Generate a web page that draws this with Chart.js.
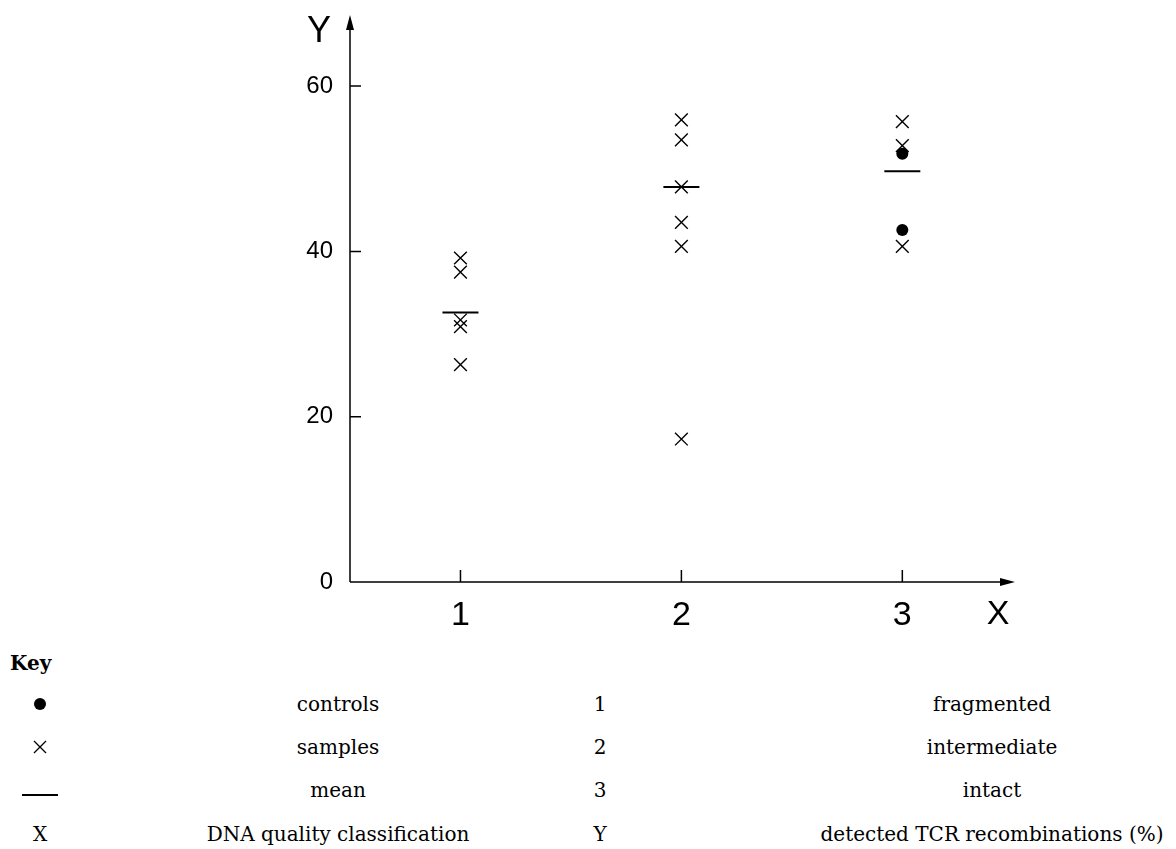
<!DOCTYPE html>
<html>
<head>
<meta charset="utf-8">
<script src="https://cdn.jsdelivr.net/npm/chart.js@4.4.1/dist/chart.umd.min.js"></script>
<style>
  body { margin: 0; background: #fff; }
  #wrap { position: relative; width: 1176px; height: 849px; }
  #grafico { position: absolute; left: 0; top: 0; }
  .k { position: absolute; font-family: "DejaVu Serif", serif; font-size: 20px; color: #000;
       transform: translate(-50%, -50%); white-space: nowrap; }
  .titulo { position: absolute; left: 10px; top: 651px; font-family: "DejaVu Serif", serif;
            font-weight: bold; font-size: 20px; }
</style>
</head>
<body>
<div id="wrap">
  <canvas id="grafico" width="1176" height="650"></canvas>
  <div class="titulo">Key</div>
  <div id="legenda"></div>
</div>
<script>
// valores
const categorias = [1, 2, 3];
const ticksY = [0, 20, 40, 60];
const amostrasGrupo = [1, 1, 1, 1, 1, 2, 2, 2, 2, 2, 2, 3, 3, 3];
const amostrasValor = [39.2, 37.5, 31.7, 30.9, 26.3, 55.9, 53.5, 47.8, 43.5, 40.6, 17.3, 55.7, 52.8, 40.6];
const controlesGrupo = [3, 3];
const controlesValor = [51.8, 42.6];
const mediaValor = [32.6, 47.8, 49.7];

// legenda (Key)
const legendaSimbolos = ["dot", "cross", "line", "X"];
const legendaDescricao = ["controls", "samples", "mean", "DNA quality classification"];
const legendaCodigo = ["1", "2", "3", "Y"];
const legendaSignificado = ["fragmented", "intermediate", "intact", "detected TCR recombinations (%)"];

// Monta a legenda em HTML
function montarLegenda() {
  const el = document.getElementById("legenda");
  const linhasY = [704, 747, 790, 834];
  let html = "";
  legendaSimbolos.forEach((s, i) => {
    const y = linhasY[i];
    if (s === "dot") {
      html += `<div style="position:absolute;left:34px;top:${y - 6}px;width:12px;height:12px;border-radius:50%;background:#000"></div>`;
    } else if (s === "cross") {
      html += `<svg style="position:absolute;left:33px;top:${y - 7}px" width="14" height="14"><path d="M1 1L13 13M13 1L1 13" stroke="#000" stroke-width="1.3"/></svg>`;
    } else if (s === "line") {
      html += `<div style="position:absolute;left:22px;top:${y + 4}px;width:36px;height:2px;background:#000"></div>`;
    } else {
      html += `<div class="k" style="left:40px;top:${y}px">${s}</div>`;
    }
    html += `<div class="k" style="left:338px;top:${y}px">${legendaDescricao[i]}</div>`;
    html += `<div class="k" style="left:600px;top:${y}px">${legendaCodigo[i]}</div>`;
    html += `<div class="k" style="left:992px;top:${y}px">${legendaSignificado[i]}</div>`;
  });
  el.innerHTML = html;
}

// Eixos com setas, marcas internas e títulos X / Y
const eixosPlugin = {
  id: "eixos",
  afterDraw(chart) {
    const { ctx, chartArea, scales } = chart;
    const x0 = chartArea.left, y0 = chartArea.bottom;
    const topo = chartArea.top, dir = chartArea.right;
    ctx.save();
    ctx.strokeStyle = "#000";
    ctx.fillStyle = "#000";
    ctx.lineWidth = 1.5;

    ctx.beginPath();
    ctx.moveTo(x0, y0);
    ctx.lineTo(x0, topo + 10);
    ctx.moveTo(x0, y0);
    ctx.lineTo(dir - 10, y0);
    ctx.stroke();

    // setas
    ctx.beginPath();
    ctx.moveTo(x0, topo);
    ctx.lineTo(x0 - 4, topo + 15);
    ctx.lineTo(x0 + 4, topo + 15);
    ctx.closePath();
    ctx.fill();
    ctx.beginPath();
    ctx.moveTo(dir, y0);
    ctx.lineTo(dir - 15, y0 - 4);
    ctx.lineTo(dir - 15, y0 + 4);
    ctx.closePath();
    ctx.fill();

    // marcas
    ctx.beginPath();
    scales.y.ticks.forEach(t => {
      if (t.value === 0) return;
      const py = scales.y.getPixelForValue(t.value);
      ctx.moveTo(x0, py);
      ctx.lineTo(x0 + 11, py);
    });
    scales.x.ticks.forEach(t => {
      const px = scales.x.getPixelForValue(t.value);
      ctx.moveTo(px, y0);
      ctx.lineTo(px, y0 - 12);
    });
    ctx.stroke();

    ctx.font = "36px 'Liberation Sans', Arial, sans-serif";
    ctx.textAlign = "center";
    ctx.textBaseline = "middle";
    ctx.fillText("Y", x0 - 31, topo + 17);
    ctx.font = "34px 'Liberation Sans', Arial, sans-serif";
    ctx.fillText("X", dir - 17, y0 + 33);
    ctx.restore();
  }
};

function desenharGrafico() {
  const ctx = document.getElementById("grafico").getContext("2d");
  new Chart(ctx, {
    type: "scatter",
    data: {
      datasets: [
        {
          label: "samples",
          data: amostrasGrupo.map((g, i) => ({ x: g, y: amostrasValor[i] })),
          pointStyle: "crossRot",
          radius: 9,
          borderWidth: 1.4,
          borderColor: "#000",
          backgroundColor: "#000"
        },
        {
          label: "controls",
          data: controlesGrupo.map((g, i) => ({ x: g, y: controlesValor[i] })),
          pointStyle: "circle",
          radius: 6,
          borderWidth: 0,
          backgroundColor: "#000"
        },
        {
          label: "mean",
          data: categorias.map((c, i) => ({ x: c, y: mediaValor[i] })),
          pointStyle: "line",
          radius: 18,
          borderWidth: 2,
          borderColor: "#000"
        }
      ]
    },
    options: {
      responsive: false,
      animation: false,
      devicePixelRatio: 1,
      layout: { autoPadding: false, padding: { top: 15, right: 161, bottom: 8, left: 0 } },
      plugins: {
        legend: { display: false },
        tooltip: { enabled: false }
      },
      scales: {
        x: {
          type: "linear",
          min: 0.5,
          max: 3.51,
          afterBuildTicks: s => { s.ticks = categorias.map(v => ({ value: v })); },
          afterFit: s => { s.height = 60; s.paddingLeft = 0; s.paddingRight = 0; },
          grid: { display: false, drawTicks: false },
          border: { display: false },
          ticks: {
            padding: 13,
            color: "#000",
            font: { family: "'Liberation Sans', Arial, sans-serif", size: 34 }
          }
        },
        y: {
          min: 0,
          max: 68.6,
          afterBuildTicks: s => { s.ticks = ticksY.map(v => ({ value: v })); },
          afterFit: s => { s.width = 350; s.paddingTop = 0; s.paddingBottom = 0; },
          grid: { display: false, drawTicks: false },
          border: { display: false },
          ticks: {
            padding: 17,
            color: "#000",
            font: { family: "'Liberation Sans', Arial, sans-serif", size: 24 }
          }
        }
      }
    },
    plugins: [eixosPlugin]
  });
}

document.addEventListener("DOMContentLoaded", () => {
  montarLegenda();
  desenharGrafico();
});
</script>
</body>
</html>
